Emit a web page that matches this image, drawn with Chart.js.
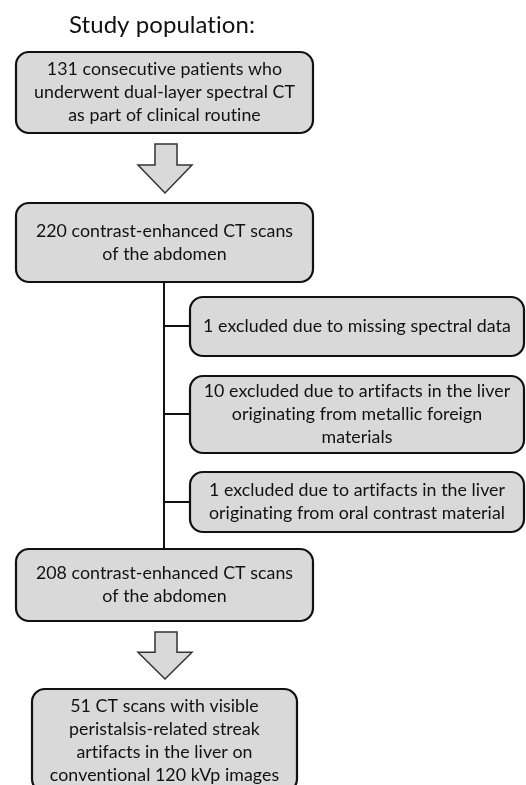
<!DOCTYPE html>
<html>
<head>
<meta charset="utf-8">
<script src="https://cdn.jsdelivr.net/npm/chart.js@4.4.1/dist/chart.umd.min.js"></script>
<style>
  body { margin: 0; background: #fff; }
</style>
</head>
<body>
<canvas id="flowChart" width="526" height="785"></canvas>
<script>
// flow steps (text + counts)
const title = "Study population:";
const stepCounts = [131, 220, 1, 10, 1, 208, 51];
const stepText = [
  ["131 consecutive patients who", "underwent dual-layer spectral CT", "as part of clinical routine"],
  ["220 contrast-enhanced CT scans", "of the abdomen"],
  ["1 excluded due to missing spectral data"],
  ["10 excluded due to artifacts in the liver", "originating from metallic foreign", "materials"],
  ["1 excluded due to artifacts in the liver", "originating from oral contrast material"],
  ["208 contrast-enhanced CT scans", "of the abdomen"],
  ["51 CT scans with visible", "peristalsis-related streak", "artifacts in the liver on", "conventional 120 kVp images"]
];

// layout in chart units (x: 0-526, y: 0-785 from the top)
const boxLeft   = [16, 16, 190, 190, 190, 16, 32];
const boxRight  = [313, 313, 524, 524, 524, 313, 297];
const boxTop    = [52, 203, 297, 376, 472, 549, 689];
const boxBottom = [133, 282, 356, 453, 532, 621, 792];

const arrowFrom = [0, 5];
const arrowTo = [1, 6];
const trunkX = 164;
const branchY = [326, 414, 502];

function px(chart, x) { return chart.scales.x.getPixelForValue(x); }
function py(chart, y) { return chart.scales.y.getPixelForValue(y); }

const flowPlugin = {
  id: "flow",
  afterDatasetsDraw(chart) {
    const ctx = chart.ctx;
    ctx.save();
    ctx.letterSpacing = "0.05px"; // keeps "ti" from turning into a ligature

    // title
    ctx.fillStyle = "#111";
    ctx.font = "24px Lato";
    ctx.textAlign = "center";
    ctx.textBaseline = "middle";
    ctx.fillText(title, px(chart, 162), py(chart, 25));

    // connector lines
    ctx.strokeStyle = "#111";
    ctx.lineWidth = 2;
    ctx.beginPath();
    ctx.moveTo(px(chart, trunkX), py(chart, boxBottom[1]));
    ctx.lineTo(px(chart, trunkX), py(chart, boxTop[5]));
    branchY.forEach((y) => {
      ctx.moveTo(px(chart, trunkX), py(chart, y));
      ctx.lineTo(px(chart, boxLeft[2]), py(chart, y));
    });
    ctx.stroke();

    // block arrows
    arrowFrom.forEach((from, i) => {
      const to = arrowTo[i];
      const top = boxBottom[from] + 11;
      const tip = boxTop[to] - 10;
      const neck = top + (tip - top) * 0.43;
      ctx.beginPath();
      ctx.moveTo(px(chart, 155), py(chart, top));
      ctx.lineTo(px(chart, 177), py(chart, top));
      ctx.lineTo(px(chart, 177), py(chart, neck));
      ctx.lineTo(px(chart, 192), py(chart, neck));
      ctx.lineTo(px(chart, 165), py(chart, tip));
      ctx.lineTo(px(chart, 138), py(chart, neck));
      ctx.lineTo(px(chart, 155), py(chart, neck));
      ctx.closePath();
      ctx.fillStyle = "#d9d9d9";
      ctx.fill();
      ctx.lineWidth = 1.5;
      ctx.strokeStyle = "#333";
      ctx.stroke();
    });

    // boxes
    stepText.forEach((lines, i) => {
      const x0 = px(chart, boxLeft[i]);
      const x1 = px(chart, boxRight[i]);
      const y0 = py(chart, boxTop[i]);
      const y1 = py(chart, boxBottom[i]);
      ctx.beginPath();
      ctx.roundRect(x0, y0, x1 - x0, y1 - y0, 13);
      ctx.fillStyle = "#d9d9d9";
      ctx.fill();
      ctx.lineWidth = 2.2;
      ctx.strokeStyle = "#111";
      ctx.stroke();

      ctx.fillStyle = "#111";
      ctx.font = "17.8px Lato";
      const lh = 23;
      const cx = (x0 + x1) / 2;
      const cy = (y0 + y1) / 2;
      lines.forEach((t, j) => {
        ctx.fillText(t, cx, cy + (j - (lines.length - 1) / 2) * lh);
      });
    });

    ctx.restore();
  }
};

new Chart(document.getElementById("flowChart"), {
  type: "scatter",
  data: {
    datasets: [{
      label: "steps",
      data: stepCounts.map((n, i) => ({ x: (boxLeft[i] + boxRight[i]) / 2, y: (boxTop[i] + boxBottom[i]) / 2, n: n })),
      pointRadius: 0
    }]
  },
  options: {
    responsive: false,
    animation: false,
    devicePixelRatio: 1,
    layout: { padding: 0 },
    plugins: { legend: { display: false }, tooltip: { enabled: false } },
    scales: {
      x: { type: "linear", min: 0, max: 526, display: false },
      y: { type: "linear", min: 0, max: 785, reverse: true, display: false }
    }
  },
  plugins: [flowPlugin]
});
</script>
</body>
</html>
